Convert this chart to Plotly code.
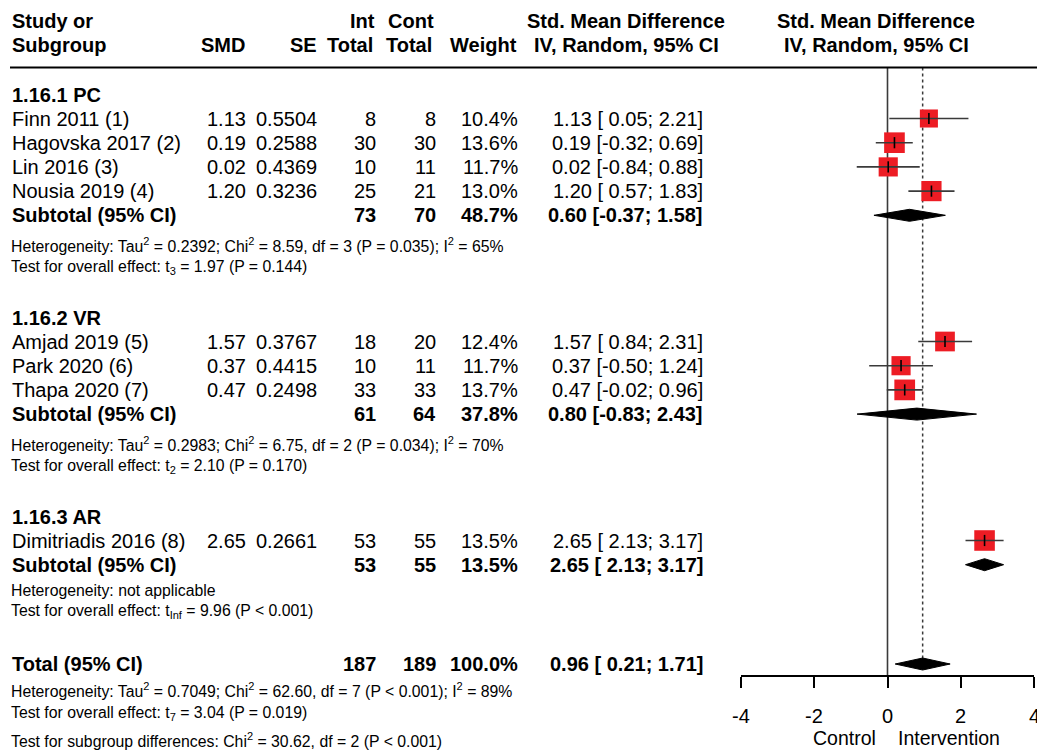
import math
import plotly.graph_objects as go

# ------------------------------------------------------------------ data
SECTIONS = ["1.16.1 PC", "1.16.2 VR", "1.16.3 AR"]
STUDY_SECTION = [0, 0, 0, 0, 1, 1, 1, 2]
STUDIES = ["Finn 2011 (1)", "Hagovska 2017 (2)", "Lin 2016 (3)", "Nousia 2019 (4)",
           "Amjad 2019 (5)", "Park 2020 (6)", "Thapa 2020 (7)", "Dimitriadis 2016 (8)"]
SMD = [1.13, 0.19, 0.02, 1.20, 1.57, 0.37, 0.47, 2.65]
SE = [0.5504, 0.2588, 0.4369, 0.3236, 0.3767, 0.4415, 0.2498, 0.2661]
INT_N = [8, 30, 10, 25, 18, 10, 33, 53]
CONT_N = [8, 30, 11, 21, 20, 11, 33, 55]
WEIGHT = [10.4, 13.6, 11.7, 13.0, 12.4, 11.7, 13.7, 13.5]
CI_LO = [0.05, -0.32, -0.84, 0.57, 0.84, -0.50, -0.02, 2.13]
CI_HI = [2.21, 0.69, 0.88, 1.83, 2.31, 1.24, 0.96, 3.17]

SUB_INT = [73, 61, 53]
SUB_CONT = [70, 64, 55]
SUB_WEIGHT = [48.7, 37.8, 13.5]
SUB_SMD = [0.60, 0.80, 2.65]
SUB_LO = [-0.37, -0.83, 2.13]
SUB_HI = [1.58, 2.43, 3.17]
SUB_HET = [
    "Heterogeneity: Tau<sup>2</sup> = 0.2392; Chi<sup>2</sup> = 8.59, df = 3 (P = 0.035); I<sup>2</sup> = 65%",
    "Heterogeneity: Tau<sup>2</sup> = 0.2983; Chi<sup>2</sup> = 6.75, df = 2 (P = 0.034); I<sup>2</sup> = 70%",
    "Heterogeneity: not applicable",
]
SUB_TEST = [
    "Test for overall effect: t<sub>3</sub> = 1.97 (P = 0.144)",
    "Test for overall effect: t<sub>2</sub> = 2.10 (P = 0.170)",
    "Test for overall effect: t<sub>Inf</sub> = 9.96 (P &lt; 0.001)",
]
TOTAL_INT, TOTAL_CONT, TOTAL_WEIGHT = 187, 189, 100.0
TOTAL_SMD, TOTAL_LO, TOTAL_HI = 0.96, 0.21, 1.71
TOTAL_HET = "Heterogeneity: Tau<sup>2</sup> = 0.7049; Chi<sup>2</sup> = 62.60, df = 7 (P &lt; 0.001); I<sup>2</sup> = 89%"
TOTAL_TEST = "Test for overall effect: t<sub>7</sub> = 3.04 (P = 0.019)"
SUBGROUP_TEST = "Test for subgroup differences: Chi<sup>2</sup> = 30.62, df = 2 (P &lt; 0.001)"

TICKS = [-4, -2, 0, 2, 4]
TICK_LABELS = ["-4", "-2", "0", "2", "4"]
FAVOURS = ["Control", "Intervention"]

# ------------------------------------------------------------------ layout constants
W, H = 1037, 753
FONT = "Liberation Sans, Arial, sans-serif"
MAIN = 20
NOTE = 15.8
PLOT_L, PLOT_R = 741, 1034
AXIS_Y = 676
TICK_LABEL_Y = 716
HEAD_LINE_Y = 67.5
COL = dict(study=11, smd=247, se=318, int=377, cont=437, weight=519, ci=704)
SEC_TITLE_Y = [95, 318, 517]
FIRST_STUDY_DY = 23.5
STEP = 24.2
TOTAL_Y = 664
RED = "#ED1C24"

fig = go.Figure()
ann = []


def txt(x, y, s, anchor="left", bold=False, size=MAIN):
    if bold:
        s = "<b>" + s + "</b>"
    ann.append(dict(x=x / W, xref="paper", y=y, yref="y", text=s, showarrow=False,
                    xanchor=anchor, yanchor="middle", borderpad=0,
                    font=dict(family=FONT, size=size, color="black")))


def ci_text(m, lo, hi):
    return f"{m:.2f} [{lo:5.2f}; {hi:.2f}]"


# header
txt(COL["study"], 21, "Study or", bold=True)
txt(COL["study"], 45, "Subgroup", bold=True)
txt(246, 45, "SMD", "right", True)
txt(318, 45, "SE", "right", True)
txt(376, 21, "Int", "right", True)
txt(374, 45, "Total", "right", True)
txt(435, 21, "Cont", "right", True)
txt(433, 45, "Total", "right", True)
txt(518, 45, "Weight", "right", True)
txt(626, 21, "Std. Mean Difference", "center", True)
txt(626, 45, "IV, Random, 95% CI", "center", True)
txt(876, 21, "Std. Mean Difference", "center", True)
txt(876, 45, "IV, Random, 95% CI", "center", True)

study_y = [0.0] * len(STUDIES)
sub_y = [0.0] * len(SECTIONS)
for s, title in enumerate(SECTIONS):
    y = SEC_TITLE_Y[s]
    txt(COL["study"], y, title, bold=True)
    y += FIRST_STUDY_DY
    for i, sec in enumerate(STUDY_SECTION):
        if sec != s:
            continue
        study_y[i] = y
        txt(COL["study"], y, STUDIES[i])
        txt(COL["smd"], y, f"{SMD[i]:.2f}", "right")
        txt(COL["se"], y, f"{SE[i]:.4f}", "right")
        txt(COL["int"], y, f"{INT_N[i]}", "right")
        txt(COL["cont"], y, f"{CONT_N[i]}", "right")
        txt(COL["weight"], y, f"{WEIGHT[i]:.1f}%", "right")
        txt(COL["ci"], y, ci_text(SMD[i], CI_LO[i], CI_HI[i]), "right")
        y += STEP
    sub_y[s] = y
    txt(COL["study"], y, "Subtotal (95% CI)", bold=True)
    txt(COL["int"], y, f"{SUB_INT[s]}", "right", True)
    txt(COL["cont"], y, f"{SUB_CONT[s]}", "right", True)
    txt(COL["weight"], y, f"{SUB_WEIGHT[s]:.1f}%", "right", True)
    txt(COL["ci"], y, ci_text(SUB_SMD[s], SUB_LO[s], SUB_HI[s]), "right", True)
    has_sup = "<sup>" in SUB_HET[s]
    y += 30 if has_sup else 26
    txt(9.5, y, SUB_HET[s], size=NOTE)
    y += 22 if has_sup else 21
    txt(9.5, y, SUB_TEST[s], size=NOTE)

# total
txt(COL["study"], TOTAL_Y, "Total (95% CI)", bold=True)
txt(COL["int"], TOTAL_Y, f"{TOTAL_INT}", "right", True)
txt(COL["cont"], TOTAL_Y, f"{TOTAL_CONT}", "right", True)
txt(COL["weight"], TOTAL_Y, f"{TOTAL_WEIGHT:.1f}%", "right", True)
txt(COL["ci"], TOTAL_Y, ci_text(TOTAL_SMD, TOTAL_LO, TOTAL_HI), "right", True)
txt(9.5, TOTAL_Y + 26, TOTAL_HET, size=NOTE)
txt(9.5, TOTAL_Y + 49, TOTAL_TEST, size=NOTE)
txt(9.5, TOTAL_Y + 76, SUBGROUP_TEST, size=NOTE)

# favours labels
txt(877, 738, FAVOURS[0], "right", size=19.5)
txt(897, 738, FAVOURS[1], "left", size=19.5)

# tick labels placed on the x axis scale
for v, lab in zip(TICKS, TICK_LABELS):
    ann.append(dict(x=v, xref="x", y=TICK_LABEL_Y, yref="y", text=lab, showarrow=False,
                    xanchor="center", yanchor="middle", borderpad=0,
                    font=dict(family=FONT, size=MAIN, color="black")))

# ------------------------------------------------------------------ marks
# squares
fig.add_trace(go.Scatter(
    x=SMD, y=study_y, mode="markers",
    marker=dict(symbol="square", color=RED, opacity=1,
                size=[5.6 * math.sqrt(w) for w in WEIGHT], line=dict(width=0)),
    hoverinfo="skip"))
# CI lines
cx, cy = [], []
for lo, hi, y in zip(CI_LO, CI_HI, study_y):
    cx += [lo, hi, None]
    cy += [y, y, None]
fig.add_trace(go.Scatter(x=cx, y=cy, mode="lines",
                         line=dict(color="#3a3a3a", width=1.6), hoverinfo="skip"))
# centre ticks
fig.add_trace(go.Scatter(x=SMD, y=study_y, mode="markers",
                         marker=dict(symbol="line-ns", size=8, opacity=1,
                                     line=dict(color="black", width=1.6)),
                         hoverinfo="skip"))
# diamonds
HALF = 6
for m, lo, hi, y in list(zip(SUB_SMD, SUB_LO, SUB_HI, sub_y)) + [(TOTAL_SMD, TOTAL_LO, TOTAL_HI, TOTAL_Y)]:
    fig.add_trace(go.Scatter(x=[lo, m, hi, m, lo], y=[y, y - HALF, y, y + HALF, y],
                             mode="lines", fill="toself", fillcolor="black",
                             line=dict(color="black", width=1), hoverinfo="skip"))

shapes = [
    dict(type="line", xref="paper", yref="y", x0=10 / W, x1=1, y0=HEAD_LINE_Y, y1=HEAD_LINE_Y,
         line=dict(color="black", width=2)),
    dict(type="line", xref="x", yref="y", x0=0, x1=0, y0=HEAD_LINE_Y, y1=AXIS_Y,
         line=dict(color="#3a3a3a", width=1.6), layer="below"),
    dict(type="line", xref="x", yref="y", x0=TOTAL_SMD, x1=TOTAL_SMD, y0=HEAD_LINE_Y, y1=TOTAL_Y,
         line=dict(color="#3a3a3a", width=1.5, dash="dot"), layer="below"),
]

fig.update_layout(
    width=W, height=H, margin=dict(l=0, r=0, t=0, b=0),
    paper_bgcolor="white", plot_bgcolor="rgba(0,0,0,0)", showlegend=False,
    xaxis=dict(domain=[PLOT_L / W, PLOT_R / W], range=[-4, 4], tickvals=TICKS,
               showticklabels=False,
               showline=True, linecolor="black", linewidth=1.5, ticks="outside", ticklen=11,
               tickwidth=1.5, tickcolor="black", showgrid=False, zeroline=False,
               anchor="free", position=(H - AXIS_Y) / H, automargin=False,
               fixedrange=True),
    yaxis=dict(domain=[0, 1], range=[H, 0], visible=False, fixedrange=True),
    annotations=ann, shapes=shapes,
)

fig.write_html("out.html", config={"displayModeBar": False},
               post_script="document.body.style.margin='0';document.body.style.overflow='hidden';")
